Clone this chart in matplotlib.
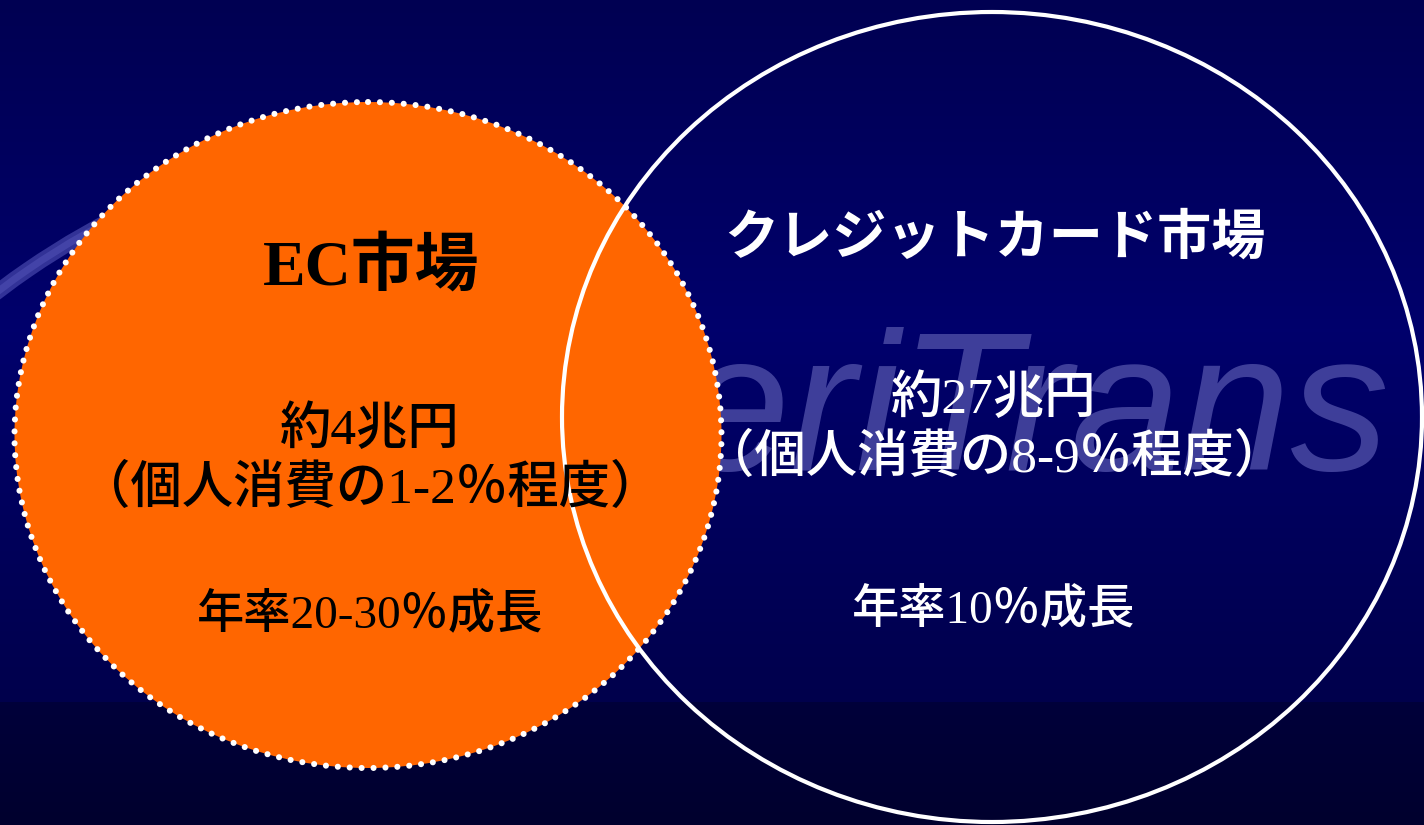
import numpy as np
import matplotlib.pyplot as plt
from matplotlib.patches import Ellipse, Arc
from matplotlib.colors import LinearSegmentedColormap

# market labels and figures shown on the slide
markets = ['EC市場', 'クレジットカード市場']
market_sizes = ['約4兆円', '約27兆円']
consumption_shares = ['（個人消費の1-2％程度）', '（個人消費の8-9％程度）']
growth_rates = ['年率20-30％成長', '年率10％成長']
watermark = 'VeriTrans'

W, H = 1424, 825
mixed_font = ['Liberation Serif', 'Noto Sans CJK JP', 'DejaVu Sans']
gothic_font = ['Noto Sans CJK JP', 'DejaVu Sans']

fig = plt.figure(figsize=(W / 100, H / 100), dpi=100)
ax = fig.add_axes([0, 0, 1, 1])
ax.set_xlim(0, W)
ax.set_ylim(H, 0)
ax.axis('off')

# background: navy vertical gradient with darker band at the bottom
bg = LinearSegmentedColormap.from_list('bg', [
    (0.0, '#000052'),
    (0.40, '#00006c'),
    (0.853, '#00004c'),
    (0.855, '#00003a'),
    (1.0, '#00002e'),
])
grad = np.linspace(0, 1, 825).reshape(-1, 1)
ax.imshow(grad, cmap=bg, extent=[0, W, H, 0], aspect='auto', zorder=0)

# faint logo watermark behind everything
ax.add_patch(Arc((481, 929), 1600, 1600, theta1=226, theta2=245,
                 color='#6464c8', lw=11, alpha=0.5, zorder=1))
ax.add_patch(Arc((481, 929), 1600, 1600, theta1=226, theta2=245,
                 color='#6464c8', lw=5, alpha=0.35, zorder=1))
ax.text(1390, 470, watermark, ha='right', va='baseline', fontsize=142,
        style='italic', family='Liberation Sans', color='#4646a0',
        alpha=0.9, zorder=1)

# EC market: filled orange circle with white dotted rim
ec = Ellipse((368, 435), 707, 666, facecolor='#ff6600', edgecolor='white',
             lw=4.4, linestyle=(0, (0.001, 1.95)), zorder=2)
ec.set_capstyle('round')
ax.add_patch(ec)

# credit card market: white outline only
ax.add_patch(Ellipse((992, 417), 860, 810, facecolor='none',
                     edgecolor='white', lw=3, zorder=3))

# left circle texts (black)
ax.text(371, 268, markets[0], ha='center', va='center', fontsize=46,
        fontweight='bold', family=mixed_font, color='black', zorder=4)
ax.text(370, 460, market_sizes[0] + '\n' + consumption_shares[0],
        ha='center', va='center', multialignment='center', linespacing=1.24,
        fontsize=37, fontweight='medium', family=mixed_font,
        color='black', zorder=4)
ax.text(370, 615, growth_rates[0], ha='center', va='center', fontsize=34,
        fontweight='medium', family=mixed_font, color='black', zorder=4)

# right circle texts (white)
ax.text(995, 238, markets[1], ha='center', va='center', fontsize=39,
        fontweight='bold', family=gothic_font, color='white', zorder=4)
ax.text(994, 429, market_sizes[1] + '\n' + consumption_shares[1],
        ha='center', va='center', multialignment='center', linespacing=1.24,
        fontsize=37, fontweight='medium', family=mixed_font,
        color='white', zorder=4)
ax.text(994, 610, growth_rates[1], ha='center', va='center', fontsize=34,
        fontweight='medium', family=mixed_font, color='white', zorder=4)

fig.savefig('out.png', dpi=100, facecolor='#000052')
